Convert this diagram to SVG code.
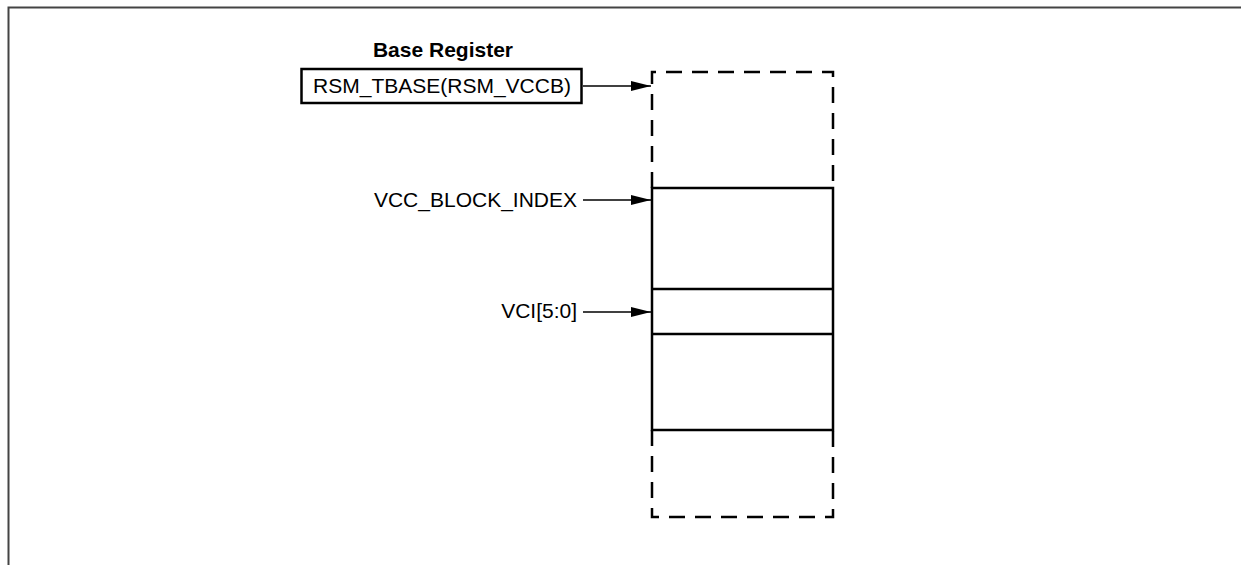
<svg xmlns="http://www.w3.org/2000/svg" width="1241" height="565" viewBox="0 0 1241 565">
<style>
.t{font-family:"Liberation Sans",Arial,sans-serif;font-size:21px;fill:#000}
.b{font-weight:bold}
.c{stroke:#000;stroke-width:1.5;fill:none}
.box{stroke:#000;stroke-width:2.5;fill:none}
.dash{stroke:#000;stroke-width:2.5;fill:none;stroke-dasharray:16 10}
</style>
<defs>
<marker id="ah" viewBox="0 0 20 11" refX="20" refY="5.5" markerWidth="20" markerHeight="11" markerUnits="userSpaceOnUse" orient="auto">
<path d="M0,0.5 L20,5.5 L0,10.5 Z" fill="#000"/>
</marker>
</defs>
<rect x="0" y="0" width="1241" height="565" fill="#fff"/>
<path d="M8.5,565 V7.5 H1241" stroke="#444" stroke-width="2" fill="none"/>
<g id="base-register">
<text class="t b" x="443" y="57" text-anchor="middle">Base Register</text>
<rect class="box" x="301.5" y="69" width="280" height="34"/>
<text class="t" x="442" y="93" text-anchor="middle">RSM_TBASE(RSM_VCCB)</text>
</g>
<g id="table">
<path class="dash" d="M652,188 V72 H833 V188"/>
<path class="dash" d="M652,430 V517 H833 V430"/>
<rect class="box" x="652" y="188" width="181" height="242"/>
<line class="box" x1="652" y1="289" x2="833" y2="289"/>
<line class="box" x1="652" y1="334" x2="833" y2="334"/>
</g>
<g id="vcc-label">
<text class="t" x="577" y="207" text-anchor="end">VCC_BLOCK_INDEX</text>
</g>
<g id="vci-label">
<text class="t" x="577" y="318" text-anchor="end">VCI[5:0]</text>
</g>
<g id="connectors">
<line class="c" x1="583" y1="86" x2="651" y2="86" marker-end="url(#ah)"/>
<line class="c" x1="583" y1="200" x2="651" y2="200" marker-end="url(#ah)"/>
<line class="c" x1="583" y1="312" x2="651" y2="312" marker-end="url(#ah)"/>
</g>
</svg>
